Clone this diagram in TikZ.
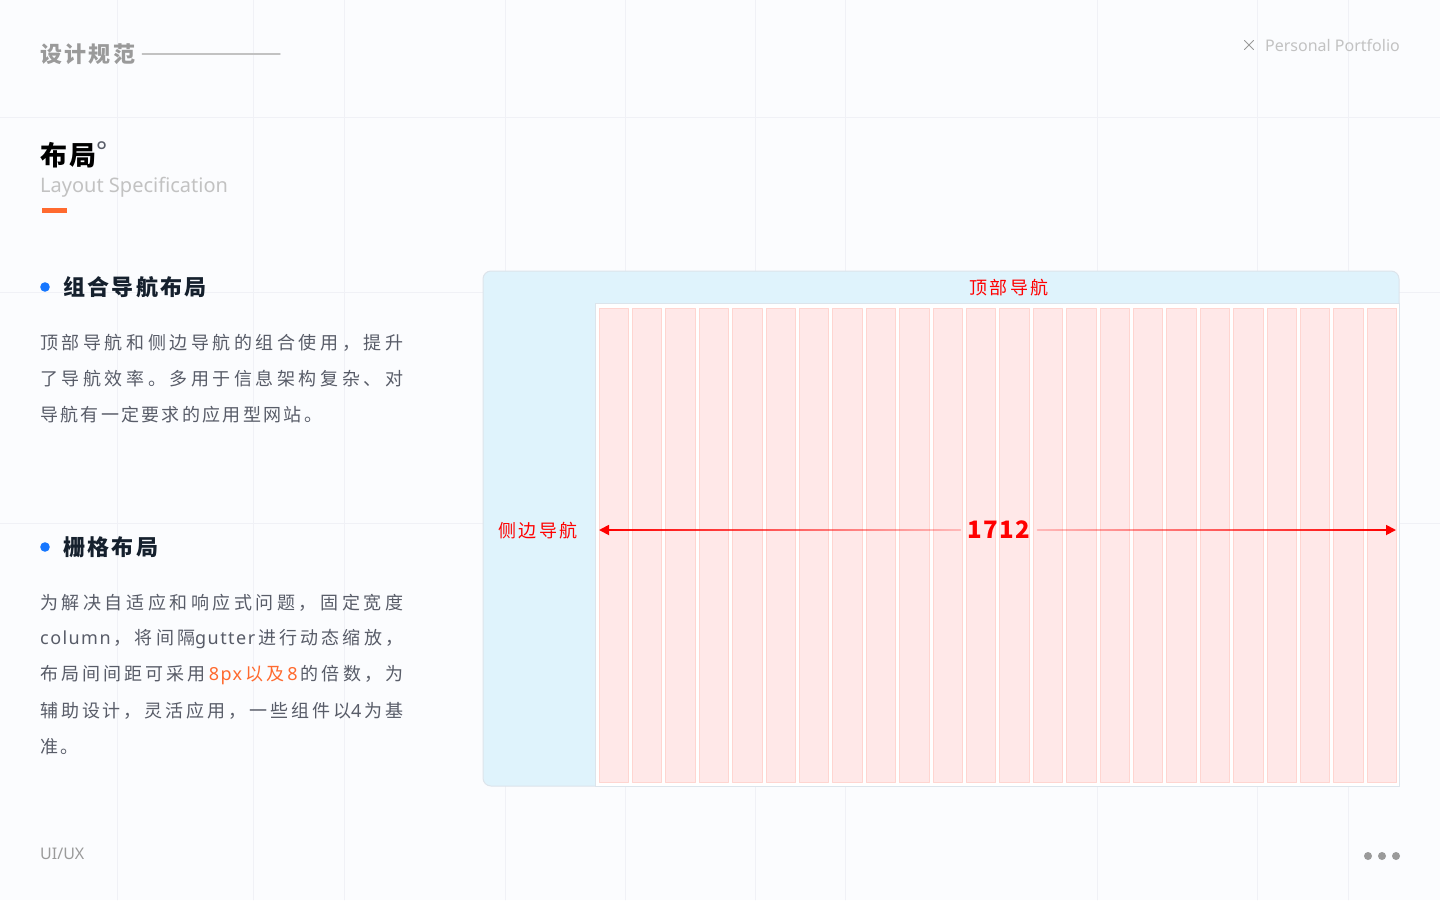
\documentclass[tikz,border=0pt]{standalone}
\usepackage{fontspec}
\setmainfont{Noto Sans CJK SC}
\newfontfamily\numfont[LetterSpace=6]{Noto Sans CJK SC}
\newfontfamily\latin{Noto Sans}
\newfontfamily\latinsp[LetterSpace=8]{Noto Sans}
\usetikzlibrary{arrows.meta,fadings}

% tracking between CJK characters, stretchable for justified lines
\newXeTeXintercharclass\cjkcls
\count255="3000
\loop \XeTeXcharclass\count255=\cjkcls \ifnum\count255<"9FFF \advance\count255 by 1 \repeat
\XeTeXcharclass"FF0C=\cjkcls
\XeTeXinterchartoks\cjkcls\cjkcls={\hskip2.3pt plus 1pt}
\XeTeXinterchartoks 0 \cjkcls={\hskip2.3pt plus 1pt}
\XeTeXinterchartoks\cjkcls 0 ={\hskip2.3pt plus 1pt}
\XeTeXinterchartokenstate=1
\newcommand\jline[1]{\hbox to 363pt{#1}}
\newcommand\cjkgap{\hskip2.3pt plus 1pt}

\definecolor{pagebg}{HTML}{FBFCFE}
\definecolor{gridln}{HTML}{F0F1F6}
\definecolor{graytxt}{HTML}{9A9A9A}
\definecolor{lighttxt}{HTML}{C2C2C2}
\definecolor{bodytxt}{HTML}{585C68}
\definecolor{headtxt}{HTML}{15202D}
\definecolor{accent}{HTML}{FF6A2F}
\definecolor{dotblue}{HTML}{1677FF}
\definecolor{sidebg}{HTML}{DFF3FC}
\definecolor{sideln}{HTML}{DCE4EB}
\definecolor{colfill}{HTML}{FFE8E8}
\definecolor{colline}{HTML}{FFD5D0}
\definecolor{navred}{HTML}{FF0000}

\tikzfading[name=fadeR, left color=transparent!0, right color=transparent!80]
\tikzfading[name=fadeL, left color=transparent!80, right color=transparent!0]

\begin{document}
\begin{tikzpicture}[x=1pt,y=-1pt,line cap=round,line join=round,
  txt/.style={anchor=west,inner sep=0pt},
  para/.style={txt,text=bodytxt,font=\fontsize{18}{22}\selectfont},
  head/.style={txt,text=headtxt,font=\bfseries\fontsize{22}{26}\selectfont},
  navlbl/.style={inner sep=0pt,text=navred,font=\fontsize{18}{22}\selectfont},
  colbox/.style={draw=colline,fill=colfill,line width=0.9pt},
  dimline/.style={navred,line width=1.8pt},
  dimtip/.style={navred,line width=1.8pt,-{Triangle[length=10pt,width=10pt]}}]
% page and faint grid
\fill[pagebg] (0,0) rectangle (1440,900);
\useasboundingbox (0,0) rectangle (1440,900);
\foreach \gx in {117,253,344,505,625,755,845,1097,1257,1348}
  \draw[gridln,line width=0.8pt] (\gx,0) -- (\gx,900);
\foreach \gy in {117,292,523}
  \draw[gridln,line width=0.8pt] (0,\gy) -- (1440,\gy);

% header
\node[txt,text=graytxt,font=\bfseries\fontsize{22}{26}\selectfont] (spec) at (40,54) {设计规范};
\coordinate (specend) at (280,54);
\draw[lighttxt,line width=1.4pt] ([xshift=7pt]spec.east) -- (specend);
\node[anchor=east,inner sep=0pt,text=lighttxt,font=\latin\fontsize{16}{19}\selectfont] (port) at (1400,45) {Personal Portfolio};
\draw[graytxt,line width=1pt] (1244.5,40.5) -- (1253.5,49.5) (1244.5,49.5) -- (1253.5,40.5);

% title
\node[txt,text=black,font=\bfseries\fontsize{27}{30}\selectfont] (title) at (40,155) {布局};
\node[anchor=base west,inner sep=0pt,text=bodytxt,font=\latin\fontsize{26}{30}\selectfont] (deg) at (96,160) {°};
\node[txt,text=lighttxt,font=\latin\fontsize{20}{24}\selectfont] (sub) at (40,187) {Layout Specification};
\fill[accent] (42,208) rectangle (67,212.5);

% combined navigation
\fill[dotblue] (45,287) circle (4.8);
\node[head] (h1) at (63,287) {组合导航布局};
\node[para] (p1a) at (40,343) {\jline{顶部导航和侧边导航的组合使用，提升}};
\node[para] (p1b) at (40,379) {\jline{了导航效率。多用于信息架构复杂、对}};
\node[para] (p1c) at (40,415) {导航有一定要求的应用型网站。};

% grid layout
\fill[dotblue] (45,547) circle (4.8);
\node[head] (h2) at (63,547) {栅格布局};
\node[para] (p2a) at (40,603) {\jline{为解决自适应和响应式问题，固定宽度}};
\node[para] (p2b) at (40,639) {\jline{{\latinsp column}\cjkgap，将间隔{\latinsp gutter}\cjkgap 进行动态缩放，}};
\node[para] (p2c) at (40,675) {\jline{布局间间距可采用\cjkgap{\color{accent}{\latinsp 8px}\cjkgap 以及\cjkgap{\latinsp 8}}\cjkgap 的倍数，为}};
\node[para] (p2d) at (40,711) {\jline{辅助设计，灵活应用，一些组件以{\latinsp 4}\cjkgap 为基}};
\node[para] (p2e) at (40,747) {准。};

% footer
\node[txt,text=graytxt,font=\latin\fontsize{16}{19}\selectfont] (foot) at (40,854) {UI/UX};
\foreach \dx in {1368,1382,1396}
  \fill[graytxt] (\dx,856) circle (4);

% layout frame
\draw[sideln,fill=sidebg,line width=1pt,rounded corners=8pt] (483,271) rectangle (1399,786);
\draw[fill=white,draw=sideln,line width=0.8pt] (595,303) rectangle (1399,786);
\foreach \i in {0,...,23}
  \draw[colbox] ({599+33.4*\i},308) rectangle ({628.4+33.4*\i},782);
\node[navlbl] (topnav) at (1009,288) {顶部导航};
\node[navlbl] (sidenav) at (538,531) {侧边导航};

% width dimension
\coordinate (aL) at (599,530);
\coordinate (aR) at (1396,530);
\node[inner sep=7pt,text=navred,font=\numfont\bfseries\fontsize{24}{28}\selectfont] (num) at (999,530) {1712};
\draw[dimline,path fading=fadeR] (num.west) -- ([xshift=8pt]aL);
\draw[dimline,path fading=fadeL] (num.east) -- ([xshift=-8pt]aR);
\draw[dimtip] ([xshift=12pt]aL) -- (aL);
\draw[dimtip] ([xshift=-12pt]aR) -- (aR);
\end{tikzpicture}
\end{document}
